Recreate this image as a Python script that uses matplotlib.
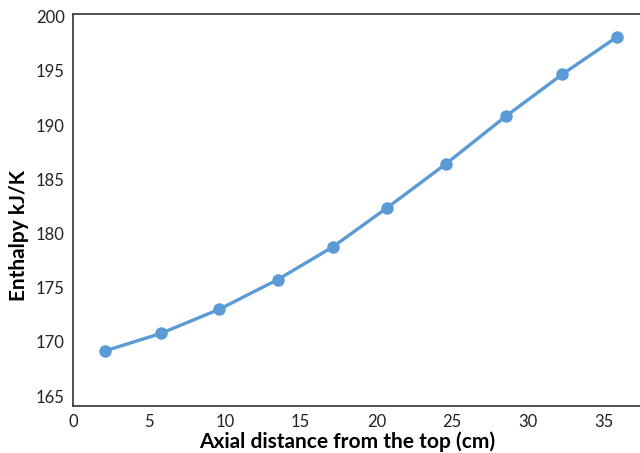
import matplotlib
matplotlib.use("Agg")
import matplotlib.pyplot as plt

# axial position (cm) and enthalpy (kJ/K)
distance = [2.07, 5.77, 9.62, 13.48, 17.11, 20.69, 24.59, 28.55, 32.26, 35.9]
enthalpy = [169.16, 170.78, 173.0, 175.74, 178.75, 182.35, 186.42, 190.82, 194.67, 198.15]
x_ticks = [0, 5, 10, 15, 20, 25, 30, 35]
y_ticks = [165, 170, 175, 180, 185, 190, 195, 200]

plt.rcParams["font.family"] = ["Lato", "DejaVu Sans"]

fig = plt.figure(figsize=(6.4, 4.53), dpi=100)
ax = fig.add_axes([0.1145, 0.104, 0.8855, 0.864])

ax.plot(distance, enthalpy, color="#5B9BD5", linewidth=2.4,
        marker="o", markersize=9, markeredgewidth=0)

ax.set_xlim(0, 37.4)
ax.set_ylim(164.1, 200.2)
ax.set_xticks(x_ticks)
ax.set_yticks(y_ticks)
ax.tick_params(length=0, labelsize=12, colors="#222222", pad=6)

for s in ["top", "left", "bottom"]:
    ax.spines[s].set_color("#333333")
    ax.spines[s].set_linewidth(1.2)
ax.spines["right"].set_visible(False)

ax.set_xlabel("Axial distance from the top (cm)", fontsize=15, fontweight="bold")
ax.set_ylabel("Enthalpy kJ/K", fontsize=15, fontweight="bold")
# labels in the original sit a bit off the plot-area centre
ax.xaxis.set_label_coords(0.483, -0.064)
ax.yaxis.set_label_coords(-0.078, 0.436)

fig.savefig("out.png", dpi=100)
